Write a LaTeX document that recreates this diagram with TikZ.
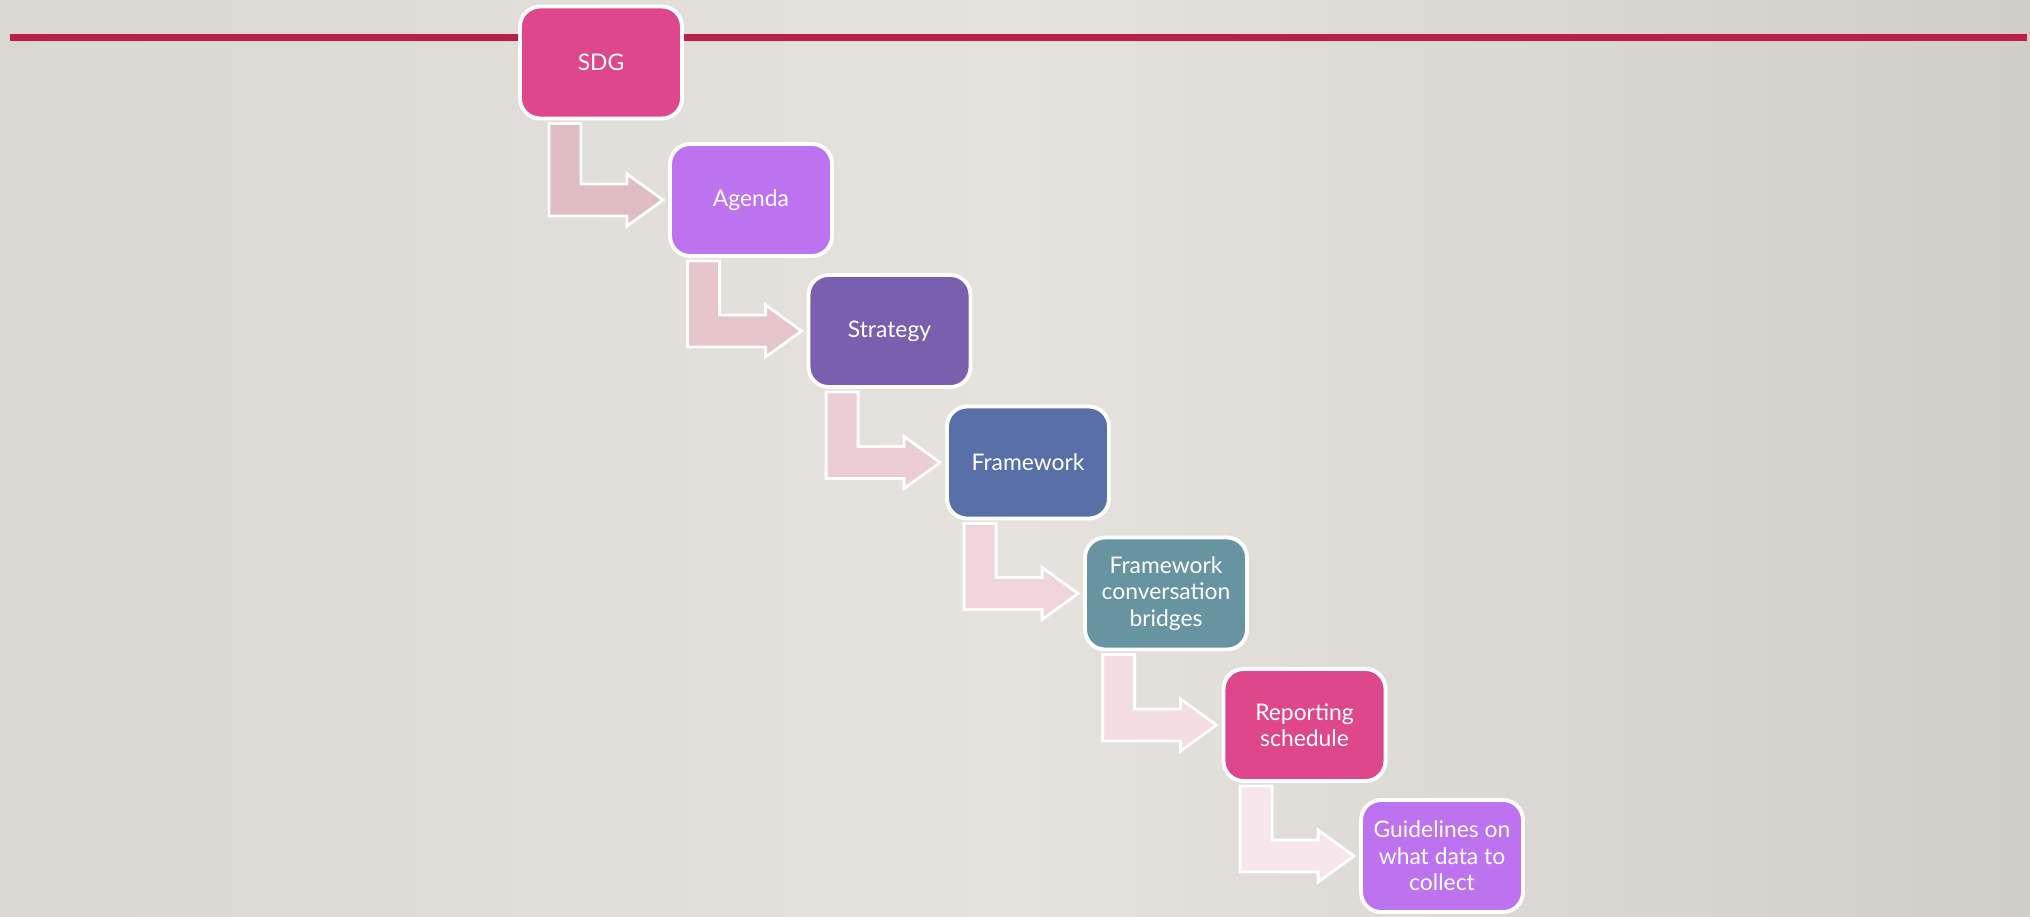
\documentclass[tikz,border=0pt]{standalone}
\usepackage{fontspec}
\setmainfont{Lato}
\usetikzlibrary{calc}
\definecolor{bgl}{HTML}{DBD8D2}
\definecolor{bgmid}{HTML}{E6E3DF}
\definecolor{bgr}{HTML}{D1CDC7}
\definecolor{rulered}{HTML}{BB1F48}
\definecolor{pinkbox}{HTML}{DF478D}
\definecolor{lilacbox}{HTML}{BD73F0}
\definecolor{violetbox}{HTML}{7A5FAF}
\definecolor{bluebox}{HTML}{586FA8}
\definecolor{tealbox}{HTML}{6893A1}
\definecolor{arrA}{HTML}{E0BDC2}
\definecolor{arrB}{HTML}{E5C4CA}
\definecolor{arrC}{HTML}{EBCDD3}
\definecolor{arrD}{HTML}{F0D5DC}
\definecolor{arrE}{HTML}{F4DEE4}
\definecolor{arrF}{HTML}{F7E6EC}
\begin{document}
\begin{tikzpicture}[x=0.02cm,y=-0.02cm,line join=round,
	box/.style={draw=white,line width=2.2pt,rounded corners=0.4cm,minimum width=3.24cm,minimum height=2.24cm,
		text=white,align=center,font=\fontsize{13}{15}\selectfont},
	bendarrow/.style={draw=white,line width=1.6pt,line join=miter}]
	% background and top rule
	\shade[left color=bgl,right color=bgr,middle color=bgmid] (0,0) rectangle (2030,916);
	\fill[rulered] (10,34) rectangle (2027,41);
	% steps
	\node[box,fill=pinkbox] (sdg) at (601,62.5) {SDG};
	\node[box,fill=lilacbox] (agenda) at (751,200) {Agenda};
	\node[box,fill=violetbox] (strategy) at (889.5,331) {Strategy};
	\node[box,fill=bluebox] (framework) at (1028,462.5) {Framework};
	\node[box,fill=tealbox] (bridges) at (1166,593.5) {Framework\\conversation\\bridges};
	\node[box,fill=pinkbox] (reporting) at (1304.5,725) {Reporting\\schedule};
	\node[box,fill=lilacbox] (guidelines) at (1442,856) {Guidelines on\\what data to\\collect};
	% bent arrows
	\foreach \s/\t/\c in {sdg/agenda/arrA,agenda/strategy/arrB,strategy/framework/arrC,
		framework/bridges/arrD,bridges/reporting/arrE,reporting/guidelines/arrF}{
		\path ($(\t.west)+(-119,0)$) coordinate (l) ($(\s.south)+(0,3)$) coordinate (s);
		\draw[bendarrow,fill=\c] (l |- s) -- ++(32,0) -- ($(\t.west)+(-87,-16)$)
			-- ($(\t.west)+(-41,-16)$) -- ($(\t.west)+(-41,-26)$) -- ($(\t.west)+(-5,0)$)
			-- ($(\t.west)+(-41,26)$) -- ($(\t.west)+(-41,16)$) -- ($(\t.west)+(-119,16)$) -- cycle;
	}
\end{tikzpicture}
\end{document}
